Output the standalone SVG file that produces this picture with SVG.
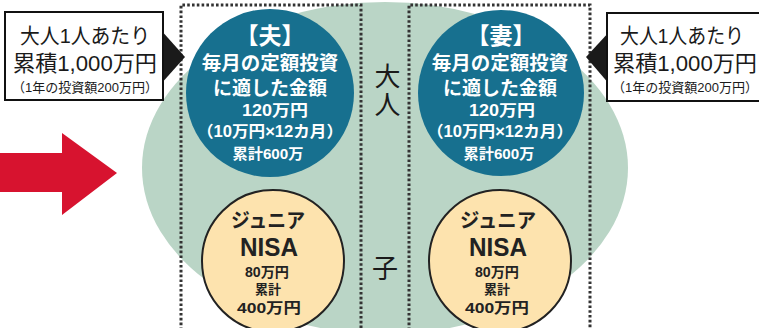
<svg xmlns="http://www.w3.org/2000/svg" width="759" height="328" viewBox="0 0 759 328">
<style>
text{font-family:"Liberation Sans","Noto Sans CJK JP",sans-serif;text-anchor:middle}
.w{fill:#ffffff;font-weight:bold}
.k{fill:#1a1a1a}
.y{fill:#222222;font-weight:bold}
.v{writing-mode:vertical-rl;text-anchor:start;letter-spacing:2px}
.dot{fill:none;stroke:#333;stroke-width:3;stroke-dasharray:2.6 2.2}
.blue{fill:#17708f}
.yel{fill:#fde3ae;stroke:#222;stroke-width:2}
.box{fill:#fff;stroke:#111;stroke-width:2}
</style>
<rect width="759" height="328" fill="#fff"/>
<g id="background">
<ellipse cx="385" cy="168" rx="243" ry="166" fill="#bad5c6"/>
<path class="dot" d="M181,330 V5 H361 V330"/>
<path class="dot" d="M409,330 V5 H590 V330"/>
</g>
<g id="connectors">
<polygon points="0,153 62,153 62,133 117,173 62,215 62,192 0,192" fill="#d7132f"/>
</g>
<g id="callout-left">
<polygon points="160,29 185,57 160,85" fill="#1a1a1a"/>
<rect class="box" x="5" y="12" width="158" height="88"/>
<text class="k" x="85" y="43" font-size="21" textLength="130" lengthAdjust="spacingAndGlyphs">大人1人あたり</text>
<text class="k" x="85" y="71" font-size="22" textLength="144" lengthAdjust="spacingAndGlyphs">累積1,000万円</text>
<text class="k" x="85" y="92" font-size="13" textLength="146" lengthAdjust="spacingAndGlyphs">（1年の投資額200万円）</text>
</g>
<g id="callout-right">
<polygon points="610,31 586,57 610,85" fill="#1a1a1a"/>
<rect class="box" x="607" y="13" width="160" height="88"/>
<text class="k" x="682" y="43" font-size="21" textLength="124" lengthAdjust="spacingAndGlyphs">大人1人あたり</text>
<text class="k" x="685" y="71" font-size="22" textLength="144" lengthAdjust="spacingAndGlyphs">累積1,000万円</text>
<text class="k" x="685" y="92" font-size="13" textLength="146" lengthAdjust="spacingAndGlyphs">（1年の投資額200万円）</text>
</g>
<g id="husband">
<circle class="blue" cx="270" cy="93" r="84"/>
<text class="w" x="270" y="44" font-size="23">【夫】</text>
<text class="w" x="270" y="70" font-size="19.5">毎月の定額投資</text>
<text class="w" x="270" y="95" font-size="19">に適した金額</text>
<text class="w" x="275" y="116" font-size="16" textLength="66" lengthAdjust="spacingAndGlyphs">120万円</text>
<text class="w" x="270" y="137" font-size="16" textLength="146" lengthAdjust="spacingAndGlyphs">（10万円×12カ月）</text>
<text class="w" x="268" y="159" font-size="15" textLength="71" lengthAdjust="spacingAndGlyphs">累計600万</text>
</g>
<g id="wife">
<circle class="blue" cx="501" cy="93" r="83"/>
<text class="w" x="501" y="44" font-size="23">【妻】</text>
<text class="w" x="500" y="70" font-size="19.5">毎月の定額投資</text>
<text class="w" x="500" y="95" font-size="19">に適した金額</text>
<text class="w" x="502" y="116" font-size="16" textLength="66" lengthAdjust="spacingAndGlyphs">120万円</text>
<text class="w" x="500" y="137" font-size="16" textLength="146" lengthAdjust="spacingAndGlyphs">（10万円×12カ月）</text>
<text class="w" x="499" y="159" font-size="15" textLength="71" lengthAdjust="spacingAndGlyphs">累計600万</text>
</g>
<g id="label-adult">
<text class="k v" x="385" y="63" font-size="26">大人</text>
</g>
<g id="label-child">
<text class="k" x="385" y="278" font-size="26">子</text>
</g>
<g id="child-left">
<circle class="yel" cx="273" cy="261" r="71"/>
<text class="y" x="268" y="228" font-size="20" textLength="74" lengthAdjust="spacingAndGlyphs">ジュニア</text>
<text class="y" x="269" y="256" font-size="25" textLength="58" lengthAdjust="spacingAndGlyphs">NISA</text>
<text class="y" x="267" y="277" font-size="14" textLength="44" lengthAdjust="spacingAndGlyphs">80万円</text>
<text class="y" x="268" y="294" font-size="13">累計</text>
<text class="y" x="269" y="313" font-size="15" textLength="64" lengthAdjust="spacingAndGlyphs">400万円</text>
</g>
<g id="child-right">
<circle class="yel" cx="500" cy="261" r="71"/>
<text class="y" x="498" y="228" font-size="20" textLength="76" lengthAdjust="spacingAndGlyphs">ジュニア</text>
<text class="y" x="498" y="256" font-size="25" textLength="58" lengthAdjust="spacingAndGlyphs">NISA</text>
<text class="y" x="497" y="277" font-size="14" textLength="44" lengthAdjust="spacingAndGlyphs">80万円</text>
<text class="y" x="497" y="294" font-size="13">累計</text>
<text class="y" x="497" y="313" font-size="15" textLength="64" lengthAdjust="spacingAndGlyphs">400万円</text>
</g>
</svg>
